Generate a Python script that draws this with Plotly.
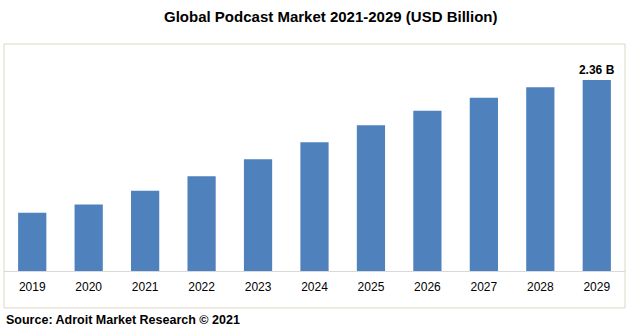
import plotly.graph_objects as go

years = ["2019", "2020", "2021", "2022", "2023", "2024", "2025", "2026", "2027", "2028", "2029"]
values = [0.72, 0.82, 0.99, 1.17, 1.38, 1.59, 1.80, 1.98, 2.14, 2.27, 2.36]
labels = ["", "", "", "", "", "", "", "", "", "", "<b>2.36 B</b>"]

fig = go.Figure()
fig.add_trace(go.Bar(
    x=years, y=values, text=labels, textposition="outside",
    constraintext="none",
    textfont=dict(family="Liberation Sans, Arial", size=12, color="#000000"),
    marker=dict(color="#4f81bd", line=dict(width=0)),
    width=0.5, cliponaxis=False, hoverinfo="x+y",
))

fig.update_layout(
    width=630, height=333,
    margin=dict(l=4, r=5, t=50, b=62),
    paper_bgcolor="white", plot_bgcolor="white",
    showlegend=False,
    title=dict(text="<b>Global Podcast Market 2021-2029 (USD Billion)</b>",
               x=0.525, xanchor="center", y=0.95, yanchor="middle",
               font=dict(family="Liberation Sans, Arial", size=15, color="#000000")),
    xaxis=dict(showgrid=False, showline=True, linecolor="#d9d9d9", linewidth=1,
               ticks="outside", ticklen=5, tickcolor="rgba(0,0,0,0)",
               tickfont=dict(family="Liberation Sans, Arial", size=12, color="#000000"),
               fixedrange=True),
    yaxis=dict(range=[0, 2.73], visible=False, fixedrange=True),
    shapes=[dict(type="rect", xref="paper", yref="paper",
                 x0=0, x1=1, y0=-0.167, y1=1.027,
                 line=dict(color="#ddd8c0", width=1), fillcolor="rgba(0,0,0,0)")],
    annotations=[dict(text="<b>Source: Adroit Market Research © 2021</b>",
                      xref="paper", yref="paper", x=0, y=-0.222,
                      xanchor="left", yanchor="middle", showarrow=False,
                      font=dict(family="Liberation Sans, Arial", size=12.5, color="#000000"))],
)

fig.write_html("out.html")
